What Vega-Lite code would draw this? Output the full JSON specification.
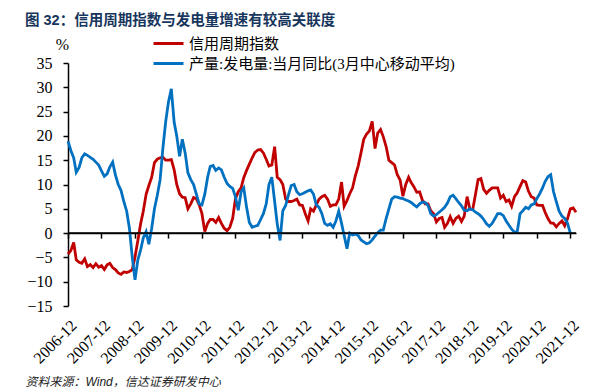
{
  "$schema": "https://vega.github.io/schema/vega-lite/v6.json",
  "width": 508,
  "height": 243,
  "autosize": {"type": "none"},
  "padding": {"left": 68, "top": 63, "right": 31, "bottom": 86},
  "background": "white",
  "config": {"view": {"stroke": null}, "axis": {"labelOverlap": false}, "axisY": {"labelOverlap": false}},
  "title": {
    "text": "图 32：信用周期指数与发电量增速有较高关联度",
    "anchor": "start",
    "frame": "group",
    "dx": -43,
    "font": "'Liberation Sans', 'Noto Sans CJK SC'",
    "fontSize": 14.5,
    "fontWeight": "bold",
    "color": "#17365D"
  },
  "layer": [
    {
      "data": {
        "format": {"parse": {"date": "date:'%Y-%m'"}},
        "values": [
          {"date":"2006-12","r":-4.3,"b":18.9},
          {"date":"2007-01","r":-3.6,"b":17.0},
          {"date":"2007-02","r":-1.9,"b":15.5},
          {"date":"2007-03","r":-5.5,"b":12.5},
          {"date":"2007-04","r":-6.0,"b":13.5},
          {"date":"2007-05","r":-6.2,"b":15.5},
          {"date":"2007-06","r":-5.3,"b":16.3},
          {"date":"2007-07","r":-6.9,"b":16.0},
          {"date":"2007-08","r":-6.5,"b":15.6},
          {"date":"2007-09","r":-7.1,"b":15.2},
          {"date":"2007-10","r":-6.3,"b":14.6},
          {"date":"2007-11","r":-7.0,"b":14.0},
          {"date":"2007-12","r":-6.7,"b":12.8},
          {"date":"2008-01","r":-7.5,"b":11.7},
          {"date":"2008-02","r":-6.5,"b":12.2},
          {"date":"2008-03","r":-6.2,"b":13.6},
          {"date":"2008-04","r":-7.1,"b":14.6},
          {"date":"2008-05","r":-7.5,"b":12.0},
          {"date":"2008-06","r":-8.2,"b":10.0},
          {"date":"2008-07","r":-8.5,"b":8.8},
          {"date":"2008-08","r":-8.0,"b":6.5},
          {"date":"2008-09","r":-8.1,"b":4.5},
          {"date":"2008-10","r":-7.9,"b":1.0},
          {"date":"2008-11","r":-7.5,"b":-5.0},
          {"date":"2008-12","r":-4.9,"b":-9.6},
          {"date":"2009-01","r":-1.5,"b":-5.5},
          {"date":"2009-02","r":2.0,"b":-3.4},
          {"date":"2009-03","r":4.5,"b":-1.0},
          {"date":"2009-04","r":8.0,"b":0.3},
          {"date":"2009-05","r":9.8,"b":-2.3},
          {"date":"2009-06","r":11.5,"b":1.0},
          {"date":"2009-07","r":14.5,"b":5.0},
          {"date":"2009-08","r":15.2,"b":7.8},
          {"date":"2009-09","r":15.5,"b":11.0},
          {"date":"2009-10","r":15.6,"b":17.5},
          {"date":"2009-11","r":15.0,"b":23.0},
          {"date":"2009-12","r":15.0,"b":27.0},
          {"date":"2010-01","r":15.1,"b":29.7},
          {"date":"2010-02","r":13.0,"b":22.8},
          {"date":"2010-03","r":10.0,"b":20.0},
          {"date":"2010-04","r":8.1,"b":15.8},
          {"date":"2010-05","r":7.4,"b":19.3},
          {"date":"2010-06","r":7.3,"b":16.5},
          {"date":"2010-07","r":5.0,"b":12.4},
          {"date":"2010-08","r":6.0,"b":11.0},
          {"date":"2010-09","r":7.3,"b":10.0},
          {"date":"2010-10","r":7.1,"b":8.0},
          {"date":"2010-11","r":5.8,"b":6.0},
          {"date":"2010-12","r":4.0,"b":5.8},
          {"date":"2011-01","r":0.3,"b":8.0},
          {"date":"2011-02","r":2.0,"b":11.5},
          {"date":"2011-03","r":2.8,"b":13.7},
          {"date":"2011-04","r":2.8,"b":13.9},
          {"date":"2011-05","r":2.2,"b":12.9},
          {"date":"2011-06","r":3.2,"b":13.4},
          {"date":"2011-07","r":2.0,"b":13.0},
          {"date":"2011-08","r":1.0,"b":11.5},
          {"date":"2011-09","r":0.5,"b":10.2},
          {"date":"2011-10","r":1.2,"b":9.6},
          {"date":"2011-11","r":3.0,"b":9.2},
          {"date":"2011-12","r":7.0,"b":7.5},
          {"date":"2012-01","r":8.5,"b":4.7},
          {"date":"2012-02","r":9.3,"b":8.5},
          {"date":"2012-03","r":11.4,"b":9.3},
          {"date":"2012-04","r":12.9,"b":5.3},
          {"date":"2012-05","r":14.2,"b":2.2},
          {"date":"2012-06","r":15.5,"b":1.2},
          {"date":"2012-07","r":16.6,"b":1.4},
          {"date":"2012-08","r":17.1,"b":1.6},
          {"date":"2012-09","r":17.2,"b":2.8},
          {"date":"2012-10","r":16.5,"b":4.0},
          {"date":"2012-11","r":15.2,"b":6.0},
          {"date":"2012-12","r":13.8,"b":10.0},
          {"date":"2013-01","r":14.0,"b":11.5},
          {"date":"2013-02","r":17.8,"b":6.5},
          {"date":"2013-03","r":11.5,"b":1.9},
          {"date":"2013-04","r":11.0,"b":-1.5},
          {"date":"2013-05","r":10.0,"b":4.6},
          {"date":"2013-06","r":7.0,"b":5.7},
          {"date":"2013-07","r":6.5,"b":7.8},
          {"date":"2013-08","r":6.5,"b":9.8},
          {"date":"2013-09","r":6.7,"b":10.0},
          {"date":"2013-10","r":7.0,"b":8.5},
          {"date":"2013-11","r":5.8,"b":7.9},
          {"date":"2013-12","r":5.7,"b":8.1},
          {"date":"2014-01","r":4.0,"b":8.4},
          {"date":"2014-02","r":2.5,"b":8.7},
          {"date":"2014-03","r":5.0,"b":8.9},
          {"date":"2014-04","r":4.5,"b":8.0},
          {"date":"2014-05","r":5.8,"b":5.8},
          {"date":"2014-06","r":7.0,"b":5.3},
          {"date":"2014-07","r":7.5,"b":4.0},
          {"date":"2014-08","r":7.8,"b":2.0},
          {"date":"2014-09","r":7.0,"b":1.6},
          {"date":"2014-10","r":5.5,"b":1.9},
          {"date":"2014-11","r":5.8,"b":1.2},
          {"date":"2014-12","r":5.8,"b":2.5},
          {"date":"2015-01","r":7.0,"b":4.5},
          {"date":"2015-02","r":10.5,"b":2.0},
          {"date":"2015-03","r":5.5,"b":-0.5},
          {"date":"2015-04","r":6.7,"b":-3.2},
          {"date":"2015-05","r":8.1,"b":0.0},
          {"date":"2015-06","r":9.3,"b":-0.4},
          {"date":"2015-07","r":11.8,"b":-0.2},
          {"date":"2015-08","r":13.8,"b":-0.5},
          {"date":"2015-09","r":16.5,"b":-1.4},
          {"date":"2015-10","r":19.3,"b":-1.8},
          {"date":"2015-11","r":20.4,"b":-2.2},
          {"date":"2015-12","r":21.0,"b":-2.0},
          {"date":"2016-01","r":23.0,"b":-1.4},
          {"date":"2016-02","r":17.4,"b":-0.6},
          {"date":"2016-03","r":20.6,"b":0.1},
          {"date":"2016-04","r":21.3,"b":0.6},
          {"date":"2016-05","r":19.8,"b":0.6},
          {"date":"2016-06","r":17.8,"b":3.0},
          {"date":"2016-07","r":15.0,"b":5.0},
          {"date":"2016-08","r":14.5,"b":7.0},
          {"date":"2016-09","r":14.0,"b":7.5},
          {"date":"2016-10","r":12.0,"b":7.4},
          {"date":"2016-11","r":10.9,"b":7.2},
          {"date":"2016-12","r":7.6,"b":7.1},
          {"date":"2017-01","r":10.0,"b":6.8},
          {"date":"2017-02","r":11.5,"b":6.6},
          {"date":"2017-03","r":10.4,"b":6.3},
          {"date":"2017-04","r":9.5,"b":5.8},
          {"date":"2017-05","r":8.4,"b":5.4},
          {"date":"2017-06","r":8.5,"b":6.0},
          {"date":"2017-07","r":6.8,"b":6.4},
          {"date":"2017-08","r":6.0,"b":6.3},
          {"date":"2017-09","r":6.0,"b":5.7},
          {"date":"2017-10","r":4.6,"b":4.0},
          {"date":"2017-11","r":4.0,"b":3.5},
          {"date":"2017-12","r":2.3,"b":3.8},
          {"date":"2018-01","r":3.0,"b":4.3},
          {"date":"2018-02","r":3.2,"b":4.8},
          {"date":"2018-03","r":1.2,"b":5.3},
          {"date":"2018-04","r":2.0,"b":6.2},
          {"date":"2018-05","r":3.4,"b":7.5},
          {"date":"2018-06","r":2.0,"b":7.8},
          {"date":"2018-07","r":3.0,"b":7.1},
          {"date":"2018-08","r":3.5,"b":6.3},
          {"date":"2018-09","r":2.4,"b":5.6},
          {"date":"2018-10","r":3.5,"b":4.7},
          {"date":"2018-11","r":7.5,"b":4.6},
          {"date":"2018-12","r":5.0,"b":5.0},
          {"date":"2019-01","r":4.8,"b":4.8},
          {"date":"2019-02","r":8.0,"b":4.3},
          {"date":"2019-03","r":11.0,"b":4.0},
          {"date":"2019-04","r":11.2,"b":3.5},
          {"date":"2019-05","r":9.0,"b":2.8},
          {"date":"2019-06","r":8.2,"b":1.9},
          {"date":"2019-07","r":8.8,"b":1.4},
          {"date":"2019-08","r":9.3,"b":2.0},
          {"date":"2019-09","r":9.3,"b":3.0},
          {"date":"2019-10","r":9.3,"b":4.0},
          {"date":"2019-11","r":7.2,"b":4.0},
          {"date":"2019-12","r":7.8,"b":3.6},
          {"date":"2020-01","r":6.5,"b":2.5},
          {"date":"2020-02","r":6.8,"b":1.6},
          {"date":"2020-03","r":5.5,"b":0.8},
          {"date":"2020-04","r":7.5,"b":0.2},
          {"date":"2020-05","r":8.3,"b":0.3},
          {"date":"2020-06","r":9.6,"b":4.0},
          {"date":"2020-07","r":10.8,"b":4.6},
          {"date":"2020-08","r":10.5,"b":5.3},
          {"date":"2020-09","r":8.6,"b":5.0},
          {"date":"2020-10","r":7.5,"b":5.8},
          {"date":"2020-11","r":7.2,"b":6.0},
          {"date":"2020-12","r":5.8,"b":7.1},
          {"date":"2021-01","r":5.7,"b":8.1},
          {"date":"2021-02","r":5.7,"b":9.3},
          {"date":"2021-03","r":4.3,"b":10.6},
          {"date":"2021-04","r":3.0,"b":11.6},
          {"date":"2021-05","r":2.1,"b":12.0},
          {"date":"2021-06","r":2.0,"b":8.5},
          {"date":"2021-07","r":1.3,"b":6.5},
          {"date":"2021-08","r":2.0,"b":4.5},
          {"date":"2021-09","r":2.5,"b":3.5},
          {"date":"2021-10","r":1.5,"b":3.0},
          {"date":"2021-11","r":3.0,"b":2.0},
          {"date":"2021-12","r":5.0,"b":0.0},
          {"date":"2022-01","r":5.2,"b":null},
          {"date":"2022-02","r":4.3,"b":null}
        ]
      },
      "transform": [{"fold": ["r", "b"], "as": ["s", "value"]}],
      "mark": {"type": "line", "strokeWidth": 2.8},
      "encoding": {
        "x": {
          "field": "date",
          "type": "temporal",
          "scale": {"domain": [{"year": 2006, "month": 12, "date": 1}, {"year": 2022, "month": 2, "date": 1}]},
          "axis": {
            "orient": "bottom",
            "values": [
              {"year": 2006, "month": 12, "date": 1}, {"year": 2007, "month": 12, "date": 1},
              {"year": 2008, "month": 12, "date": 1}, {"year": 2009, "month": 12, "date": 1},
              {"year": 2010, "month": 12, "date": 1}, {"year": 2011, "month": 12, "date": 1},
              {"year": 2012, "month": 12, "date": 1}, {"year": 2013, "month": 12, "date": 1},
              {"year": 2014, "month": 12, "date": 1}, {"year": 2015, "month": 12, "date": 1},
              {"year": 2016, "month": 12, "date": 1}, {"year": 2017, "month": 12, "date": 1},
              {"year": 2018, "month": 12, "date": 1}, {"year": 2019, "month": 12, "date": 1},
              {"year": 2020, "month": 12, "date": 1}, {"year": 2021, "month": 12, "date": 1}
            ],
            "format": "%Y-%m",
            "labelAngle": -45,
            "labelFont": "Liberation Serif",
            "labelFontSize": 16,
            "labelColor": "black",
            "labelPadding": 11,
            "labelOverlap": false,
            "labelBound": false,
            "labelFlush": false,
            "domain": false,
            "ticks": false,
            "grid": false,
            "title": "资料来源：Wind，信达证券研发中心",
            "titleFont": "'Liberation Sans', 'Noto Sans CJK SC'",
            "titleFontSize": 12,
            "titleFontWeight": "normal",
            "titleFontStyle": "italic",
            "titleColor": "#222222",
            "titleAngle": 0,
            "titleAlign": "left",
            "titleBaseline": "middle",
            "titleX": -43,
            "titleY": 75
          }
        },
        "y": {
          "field": "value",
          "type": "quantitative",
          "scale": {"domain": [-15, 35], "nice": false, "zero": false},
          "axis": {
            "values": [-15, -10, -5, 0, 5, 10, 15, 20, 25, 30, 35],
            "labelOverlap": false,
            "labelFont": "Liberation Serif",
            "labelFontSize": 16,
            "labelColor": "black",
            "labelPadding": 11,
            "domainColor": "black",
            "domainWidth": 1.5,
            "tickColor": "black",
            "tickWidth": 1.5,
            "tickSize": 5,
            "grid": false,
            "title": "%",
            "titleAngle": 0,
            "titleX": -6,
            "titleY": -19,
            "titleAlign": "center",
            "titleBaseline": "middle",
            "titleFont": "Liberation Serif",
            "titleFontSize": 16,
            "titleFontWeight": "normal",
            "titleColor": "black"
          }
        },
        "color": {
          "field": "s",
          "type": "nominal",
          "scale": {"domain": ["r", "b"], "range": ["#C00000", "#0070C0"]},
          "legend": {
            "orient": "none",
            "legendX": 89,
            "legendY": -31,
            "direction": "vertical",
            "title": null,
            "padding": 0,
            "symbolType": "M-1.5,0H1.5",
            "symbolSize": 400,
            "symbolStrokeWidth": 3,
            "symbolFillColor": "transparent",
            "labelFont": "'Liberation Serif', 'Noto Sans CJK SC'",
            "labelFontSize": 15,
            "labelColor": "black",
            "labelOffset": 9,
            "labelLimit": 500,
            "rowPadding": 0,
            "labelExpr": "datum.label == 'r' ? '信用周期指数' : '产量:发电量:当月同比(3月中心移动平均)'"
          }
        }
      }
    },
    {
      "data": {
        "format": {"parse": {"date": "date:'%Y-%m'", "date2": "date:'%Y-%m'"}},
        "values": [{"date": "2006-12", "date2": "2022-02", "value": 0}]
      },
      "mark": {"type": "rule", "color": "black", "strokeWidth": 1.5},
      "encoding": {
        "x": {
          "field": "date",
          "type": "temporal",
          "axis": {
            "orient": "bottom",
            "offset": -72.9,
            "values": [
              {"year": 2006, "month": 12, "date": 1}, {"year": 2007, "month": 12, "date": 1},
              {"year": 2008, "month": 12, "date": 1}, {"year": 2009, "month": 12, "date": 1},
              {"year": 2010, "month": 12, "date": 1}, {"year": 2011, "month": 12, "date": 1},
              {"year": 2012, "month": 12, "date": 1}, {"year": 2013, "month": 12, "date": 1},
              {"year": 2014, "month": 12, "date": 1}, {"year": 2015, "month": 12, "date": 1},
              {"year": 2016, "month": 12, "date": 1}, {"year": 2017, "month": 12, "date": 1},
              {"year": 2018, "month": 12, "date": 1}, {"year": 2019, "month": 12, "date": 1},
              {"year": 2020, "month": 12, "date": 1}, {"year": 2021, "month": 12, "date": 1}
            ],
            "labels": false,
            "domain": true,
            "domainColor": "black",
            "domainWidth": 1.5,
            "ticks": true,
            "tickColor": "black",
            "tickWidth": 1.5,
            "tickSize": 5,
            "grid": false,
            "title": null
          }
        },
        "x2": {"field": "date2"},
        "y": {
          "field": "value",
          "type": "quantitative",
          "axis": {
            "values": [-15, -10, -5, 0, 5, 10, 15, 20, 25, 30, 35],
            "labelOverlap": false
          }
        }
      }
    }
  ],
  "resolve": {"axis": {"x": "independent"}}
}
